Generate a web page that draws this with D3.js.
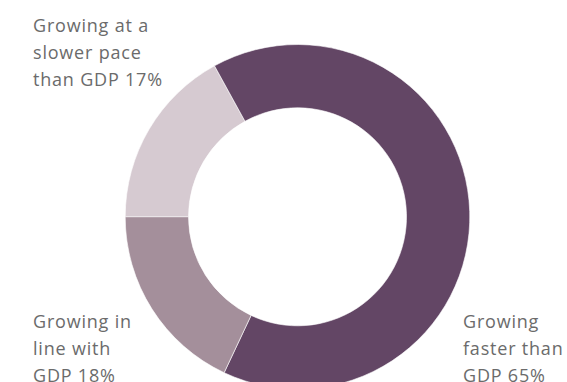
<!DOCTYPE html>
<html>
<head>
<meta charset="utf-8">
<script src="https://cdn.jsdelivr.net/npm/d3@7"></script>
<style>
  html, body { margin: 0; padding: 0; background: #fff; }
  svg { display: block; }
</style>
</head>
<body>
<svg id="chart" width="567" height="382"></svg>
<script>
// Share of segments by growth relative to GDP
const categories = ["Growing at a slower pace than GDP", "Growing faster than GDP", "Growing in line with GDP"];
const values = [17, 65, 18];
const labelLines = [
  ["Growing at a", "slower pace", "than GDP 17%"],
  ["Growing", "faster than", "GDP 65%"],
  ["Growing in", "line with", "GDP 18%"]
];
const colors = ["#d6cad1", "#634665", "#a48f9b"];

const svg = d3.select("#chart");
const cx = 297.5, cy = 216.8, outerR = 172.3, innerR = 109;

const pie = d3.pie().sort(null).value(d => d)
  .startAngle(-Math.PI / 2).endAngle(Math.PI * 1.5);
const arc = d3.arc().innerRadius(innerR).outerRadius(outerR);

const g = svg.append("g").attr("transform", `translate(${cx},${cy})`);
g.selectAll("path")
  .data(pie(values))
  .join("path")
  .attr("d", arc)
  .attr("fill", (d, i) => colors[i])
  .attr("stroke", "#fff")
  .attr("stroke-width", 0.6);

// Labels positioned at the corners around the ring
const labelPos = [
  { x: 33, y: 32 },
  { x: 463, y: 328 },
  { x: 33, y: 328 }
];
const lineH = 27;
labelLines.forEach((lines, i) => {
  const t = svg.append("text")
    .attr("x", labelPos[i].x)
    .attr("y", labelPos[i].y)
    .attr("fill", "#6b6b6b")
    .attr("font-family", "'Open Sans', Lato, sans-serif")
    .attr("font-size", 18)
    .attr("letter-spacing", 0.8);
  lines.forEach((ln, j) => {
    t.append("tspan").attr("x", labelPos[i].x).attr("dy", j === 0 ? 0 : lineH).text(ln);
  });
});
</script>
</body>
</html>
